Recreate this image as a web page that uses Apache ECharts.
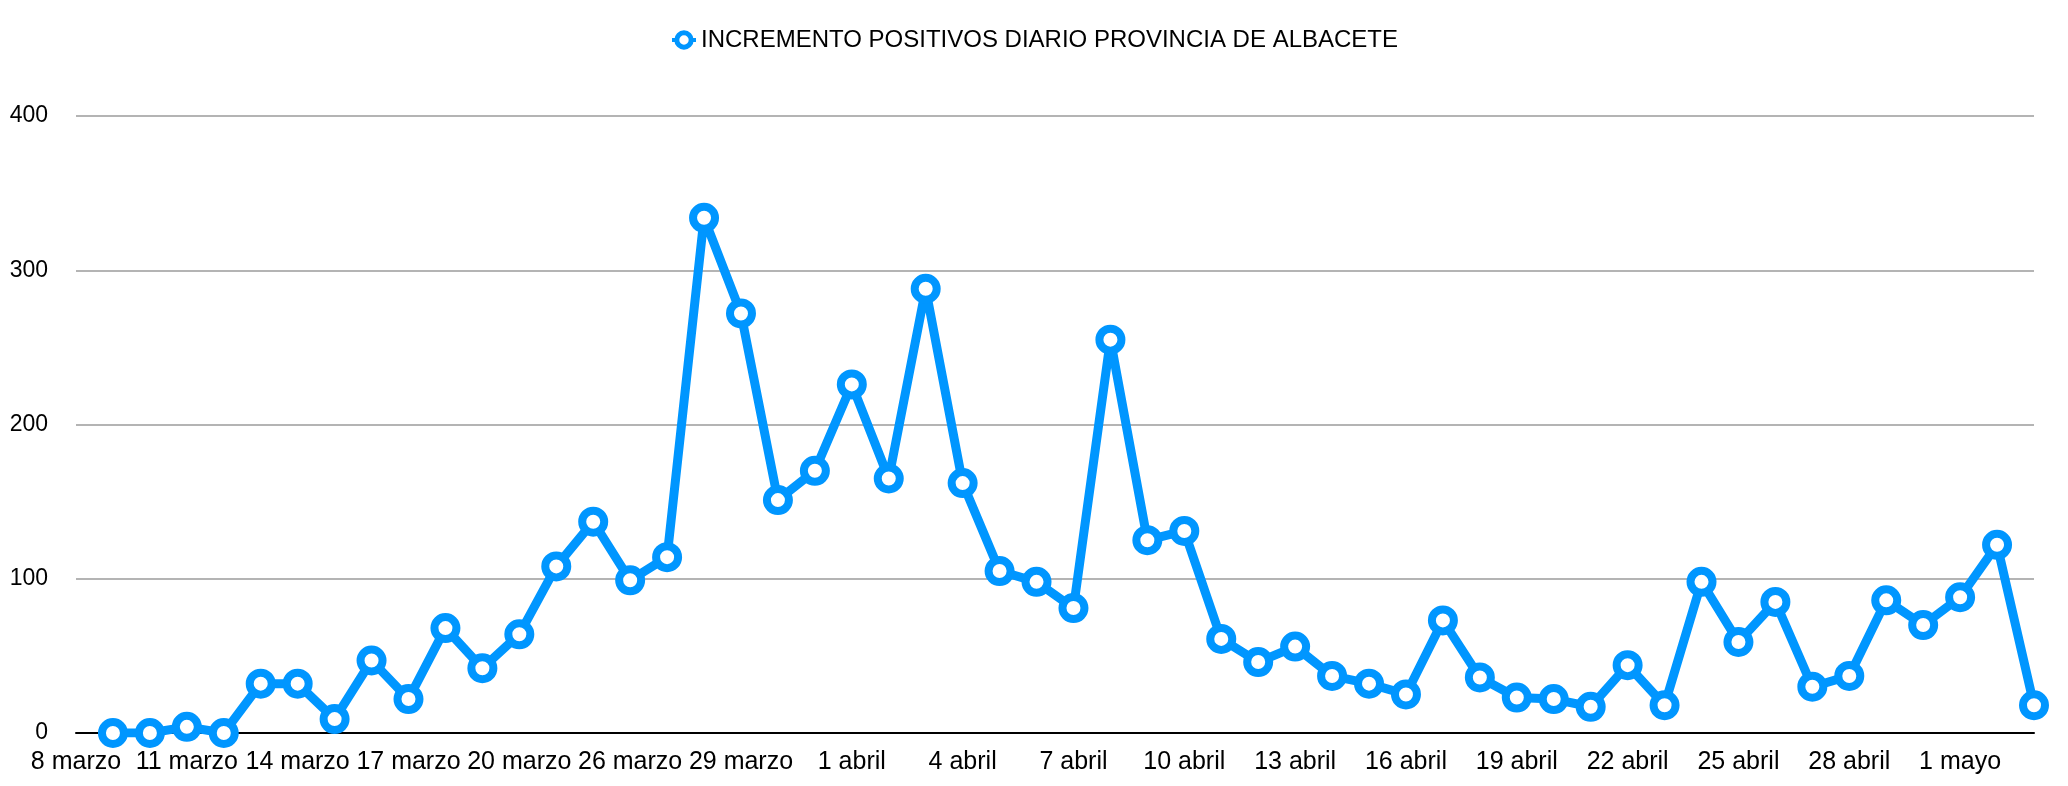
<!DOCTYPE html>
<html>
<head>
<meta charset="utf-8">
<script src="https://cdn.jsdelivr.net/npm/echarts@6/dist/echarts.min.js"></script>
<style>
  html, body { margin: 0; padding: 0; background: #fff; }
  #chart { width: 2068px; height: 786px; }
</style>
</head>
<body>
<div id="chart"></div>
<script>
const seriesName = 'INCREMENTO POSITIVOS DIARIO PROVINCIA DE ALBACETE';

const days = [
  '8 marzo', '9 marzo', '10 marzo', '11 marzo', '12 marzo', '13 marzo', '14 marzo',
  '15 marzo', '16 marzo', '17 marzo', '18 marzo', '19 marzo', '20 marzo',
  '23 marzo', '25 marzo', '26 marzo', '27 marzo', '28 marzo', '29 marzo',
  '30 marzo', '31 marzo', '1 abril', '2 abril', '3 abril', '4 abril', '5 abril',
  '6 abril', '7 abril', '8 abril', '9 abril', '10 abril', '11 abril', '12 abril',
  '13 abril', '14 abril', '15 abril', '16 abril', '17 abril', '18 abril', '19 abril',
  '20 abril', '21 abril', '22 abril', '23 abril', '24 abril', '25 abril', '26 abril',
  '27 abril', '28 abril', '29 abril', '30 abril', '1 mayo', '2 mayo', '3 mayo'
];

// first day has no value
const positivos = [
  null, 0, 0, 4, 0, 32, 32, 9, 47, 22, 68, 42, 64,
  108, 137, 99, 114, 334, 272, 151, 170, 226, 165, 288, 162, 105,
  98, 81, 255, 125, 131, 61, 46, 56, 37, 32, 25, 73, 36, 23,
  22, 17, 44, 18, 98, 59, 85, 30, 37, 86, 70, 88, 122, 18
];

const yTicks = [0, 100, 200, 300, 400];

const blue = '#0096ff';
const font = '"Liberation Sans", Arial, Helvetica, sans-serif';

const chart = echarts.init(document.getElementById('chart'));

const option = {
  animation: false,
  backgroundColor: '#fff',
  textStyle: { fontFamily: font },
  legend: {
    top: 23,
    left: 'center',
    itemWidth: 24,
    itemHeight: 18,
    itemGap: 12,
    itemStyle: { borderWidth: 5 },
    lineStyle: { width: 4 },
    textStyle: { fontSize: 24, color: '#000', fontFamily: font },
    data: [seriesName]
  },
  grid: { left: 76, right: 34, top: 116, bottom: 53, containLabel: false },
  xAxis: {
    type: 'category',
    boundaryGap: false,
    data: days,
    axisLine: { lineStyle: { color: '#000', width: 2 } },
    axisTick: { show: false },
    axisLabel: {
      interval: 2,
      color: '#000',
      fontSize: 25,
      margin: 17,
      fontFamily: font
    },
    splitLine: { show: false }
  },
  yAxis: {
    type: 'value',
    min: yTicks[0],
    max: yTicks[yTicks.length - 1],
    interval: 100,
    axisLine: { show: false },
    axisTick: { show: false },
    axisLabel: { color: '#000', fontSize: 23, margin: 28, fontFamily: font },
    splitLine: { lineStyle: { color: '#b4b4b4', width: 2 } }
  },
  series: [{
    name: seriesName,
    type: 'line',
    data: positivos,
    symbol: 'circle',
    symbolSize: 22,
    showAllSymbol: true,
    lineStyle: { color: blue, width: 9 },
    itemStyle: { color: '#fff', borderColor: blue, borderWidth: 8 },
    z: 3
  }]
};

chart.setOption(option);
</script>
</body>
</html>
